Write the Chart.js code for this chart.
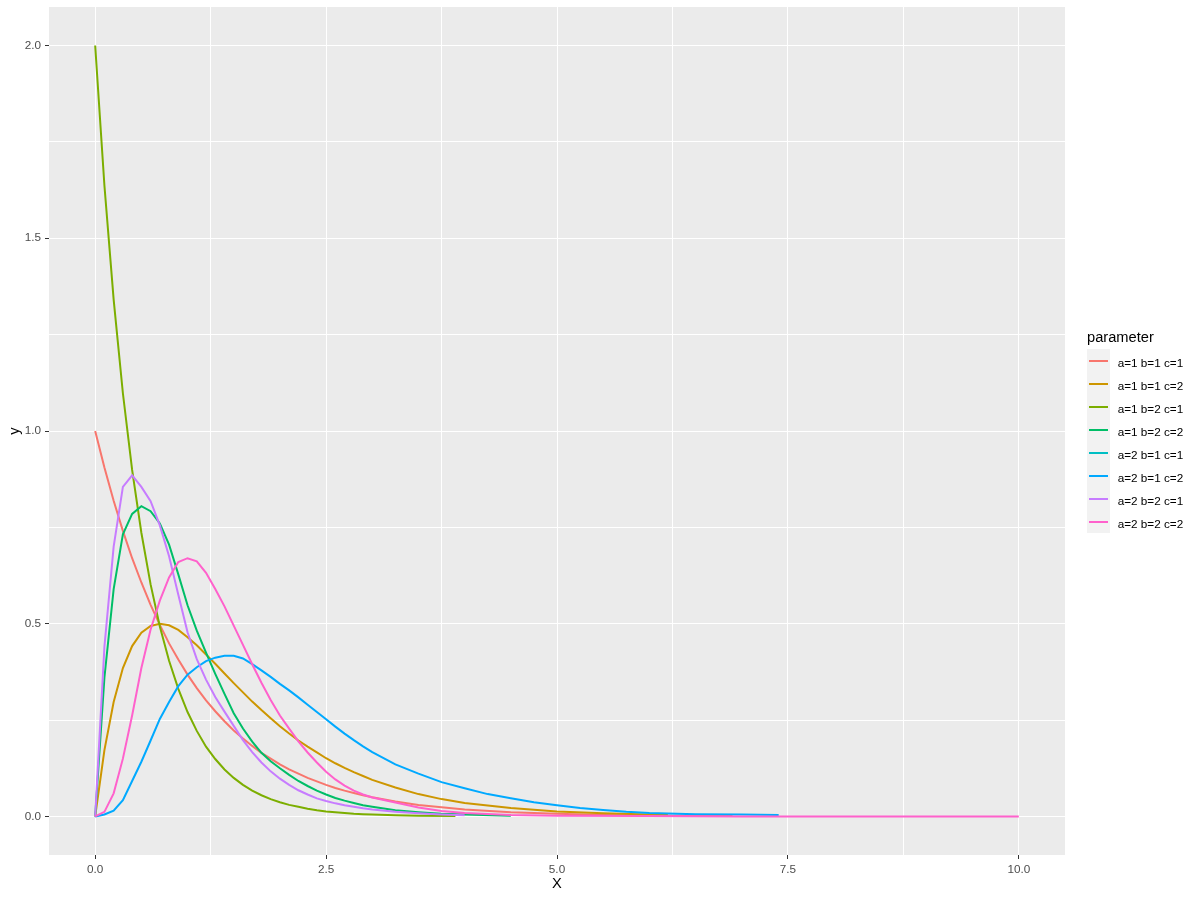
<!DOCTYPE html>
<html>
<head>
<meta charset="utf-8">
<script src="https://cdn.jsdelivr.net/npm/chart.js@4.4.0/dist/chart.umd.min.js"></script>
<style>
html,body{margin:0;padding:0;background:#fff;}
#wrap{position:relative;width:1200px;height:900px;font-family:"Liberation Sans",Arial,sans-serif;}
#chart{position:absolute;left:0;top:0;}
#legend{position:absolute;left:1087px;top:329px;}
.ltitle{position:absolute;left:0;top:0;font-size:14.67px;line-height:17px;color:#000;white-space:nowrap;}
.key{position:absolute;left:0;width:23px;height:23px;background:#F2F2F2;}
.key i{position:absolute;left:2.3px;width:18.4px;top:10.5px;height:2px;display:block;}
.lab{position:absolute;left:30.7px;font-size:11.73px;line-height:23px;color:#000;white-space:nowrap;}
</style>
</head>
<body>
<div id="wrap">
  <canvas id="chart" width="1200" height="900"></canvas>
  <div id="legend"></div>
</div>
<script>
// ---- data ----
const legendTitle = "parameter";
const seriesNames = ["a=1 b=1 c=1","a=1 b=1 c=2","a=1 b=2 c=1","a=1 b=2 c=2","a=2 b=1 c=1","a=2 b=1 c=2","a=2 b=2 c=1","a=2 b=2 c=2"];
const seriesColors = ["#F8766D","#CD9600","#7CAE00","#00BE67","#00BFC4","#00A9FF","#C77CFF","#FF61CC"];

const x111 = [0,0.1,0.2,0.3,0.4,0.5,0.6,0.7,0.8,0.9,1.0,1.1,1.2,1.3,1.4,1.5,1.6,1.7,1.8,1.9,2.0,2.1,2.2,2.3,2.4,2.5,2.6,2.7,2.8,2.9,3.0,3.25,3.5,3.75,4.0,4.5,5.0,5.5,6.0,6.5,6.9];
const y111 = [1.000,0.905,0.819,0.741,0.670,0.607,0.549,0.497,0.449,0.407,0.368,0.333,0.301,0.273,0.247,0.223,0.202,0.183,0.165,0.150,0.135,0.122,0.111,0.100,0.091,0.082,0.074,0.067,0.061,0.055,0.050,0.039,0.030,0.024,0.018,0.011,0.007,0.004,0.0025,0.0015,0.001];

const x112 = [0,0.1,0.2,0.3,0.4,0.5,0.6,0.7,0.8,0.9,1.0,1.1,1.2,1.3,1.4,1.5,1.6,1.7,1.8,1.9,2.0,2.1,2.2,2.3,2.4,2.5,2.6,2.7,2.8,2.9,3.0,3.25,3.5,3.75,4.0,4.5,5.0,5.5,6.0,6.2];
const y112 = [0,0.172,0.297,0.385,0.442,0.477,0.494,0.500,0.496,0.484,0.465,0.444,0.420,0.396,0.371,0.346,0.322,0.298,0.276,0.255,0.234,0.215,0.197,0.181,0.166,0.151,0.138,0.126,0.115,0.105,0.095,0.075,0.058,0.045,0.035,0.022,0.013,0.008,0.005,0.004];

const x121 = [0,0.1,0.2,0.3,0.4,0.5,0.6,0.7,0.8,0.9,1.0,1.1,1.2,1.3,1.4,1.5,1.6,1.7,1.8,1.9,2.0,2.1,2.2,2.3,2.4,2.5,2.6,2.7,2.8,2.9,3.0,3.25,3.5,3.9];
const y121 = [2.000,1.637,1.341,1.098,0.899,0.736,0.602,0.493,0.404,0.331,0.271,0.222,0.181,0.149,0.122,0.100,0.082,0.067,0.055,0.045,0.037,0.030,0.025,0.020,0.016,0.013,0.011,0.009,0.007,0.006,0.005,0.003,0.002,0.001];

const x122 = [0,0.1,0.2,0.3,0.4,0.5,0.6,0.7,0.8,0.9,1.0,1.1,1.2,1.3,1.4,1.5,1.6,1.7,1.8,1.9,2.0,2.1,2.2,2.3,2.4,2.5,2.6,2.7,2.8,2.9,3.0,3.25,3.5,3.75,4.0,4.5];
const y122 = [0,0.36,0.59,0.732,0.785,0.805,0.792,0.760,0.705,0.628,0.548,0.482,0.425,0.370,0.318,0.268,0.228,0.194,0.165,0.143,0.125,0.108,0.092,0.079,0.067,0.057,0.048,0.041,0.035,0.029,0.025,0.016,0.011,0.007,0.005,0.002];

const x211 = [];
const y211 = [];

const x212 = [0,0.1,0.2,0.3,0.4,0.5,0.6,0.7,0.8,0.9,1.0,1.1,1.2,1.3,1.4,1.5,1.6,1.7,1.8,1.9,2.0,2.1,2.2,2.3,2.4,2.5,2.6,2.7,2.8,2.9,3.0,3.25,3.5,3.75,4.0,4.25,4.5,4.75,5.0,5.25,5.5,5.75,6.0,6.5,7.0,7.4];
const y212 = [0,0.005,0.015,0.042,0.092,0.142,0.197,0.253,0.297,0.338,0.368,0.387,0.403,0.412,0.417,0.417,0.410,0.395,0.379,0.362,0.344,0.327,0.309,0.290,0.271,0.252,0.233,0.215,0.198,0.182,0.167,0.135,0.111,0.089,0.073,0.058,0.047,0.037,0.029,0.022,0.017,0.012,0.009,0.006,0.005,0.004];

const x221 = [0,0.1,0.2,0.3,0.4,0.5,0.6,0.7,0.8,0.9,1.0,1.1,1.2,1.3,1.4,1.5,1.6,1.7,1.8,1.9,2.0,2.1,2.2,2.3,2.4,2.5,2.6,2.7,2.8,2.9,3.0,3.25,3.5,3.75,4.0];
const y221 = [0,0.44,0.70,0.855,0.885,0.855,0.818,0.755,0.675,0.575,0.478,0.408,0.355,0.310,0.272,0.235,0.198,0.167,0.140,0.117,0.098,0.082,0.068,0.057,0.047,0.040,0.034,0.029,0.025,0.021,0.018,0.012,0.008,0.005,0.003];

const x222 = [0,0.1,0.2,0.3,0.4,0.5,0.6,0.7,0.8,0.9,1.0,1.1,1.2,1.3,1.4,1.5,1.6,1.7,1.8,1.9,2.0,2.1,2.2,2.3,2.4,2.5,2.6,2.7,2.8,2.9,3.0,3.25,3.5,3.75,4.0,4.5,5.0,6.0,7.0,8.0,9.0,10.0];
const y222 = [0,0.012,0.060,0.150,0.262,0.385,0.485,0.560,0.620,0.660,0.670,0.662,0.632,0.590,0.545,0.495,0.445,0.395,0.347,0.302,0.262,0.228,0.195,0.166,0.140,0.116,0.096,0.080,0.067,0.057,0.049,0.036,0.023,0.014,0.009,0.004,0.002,0.001,0,0,0,0];

const seriesX = [x111,x112,x121,x122,x211,x212,x221,x222];
const seriesY = [y111,y112,y121,y122,y211,y212,y221,y222];

const xTicks = [0,1.25,2.5,3.75,5,6.25,7.5,8.75,10];
const xMajor = [0,2.5,5,7.5,10];
const yTicks = [0,0.25,0.5,0.75,1,1.25,1.5,1.75,2];
const yMajor = [0,0.5,1,1.5,2];
const xTitle = "X";
const yTitle = "y";

// ---- chart ----
const FONT = '"Liberation Sans", Arial, sans-serif';
const N = seriesNames.length;
const datasets = seriesNames.map((name, i) => ({
  label: name,
  data: seriesX[i].map((xv, j) => ({x: xv, y: seriesY[i][j]})),
  borderColor: seriesColors[i],
  backgroundColor: seriesColors[i],
  borderWidth: 2,
  pointRadius: 0,
  pointHoverRadius: 0,
  fill: false,
  tension: 0,
  order: N - i
}));

const bgPlugin = {
  id: 'panelBg',
  beforeDraw(chart) {
    const {ctx, chartArea: a} = chart;
    ctx.save();
    ctx.fillStyle = '#FFFFFF';
    ctx.fillRect(0, 0, chart.width, chart.height);
    ctx.fillStyle = '#EBEBEB';
    ctx.fillRect(a.left, a.top, a.right - a.left, a.bottom - a.top);
    ctx.restore();
  }
};

new Chart(document.getElementById('chart'), {
  type: 'line',
  data: { datasets },
  options: {
    responsive: false,
    animation: false,
    devicePixelRatio: 1,
    events: [],
    layout: { padding: { top: 7, right: 135, left: 0, bottom: 0 } },
    plugins: { legend: { display: false }, tooltip: { enabled: false } },
    scales: {
      x: {
        type: 'linear',
        min: -0.5, max: 10.5,
        afterBuildTicks: (axis) => { axis.ticks = xTicks.map(v => ({value: v})); },
        afterFit: (axis) => { axis.height = 45; axis.paddingLeft = 0; axis.paddingRight = 0; },
        border: { display: false },
        grid: {
          color: '#FFFFFF', lineWidth: 1, drawTicks: true, tickLength: 4, tickWidth: 1,
          tickColor: (c) => (c.tick && xMajor.includes(c.tick.value)) ? '#333333' : 'rgba(0,0,0,0)'
        },
        ticks: {
          autoSkip: false, maxRotation: 0, padding: 4, color: '#4D4D4D',
          font: { family: FONT, size: 11.73 },
          callback: (v) => xMajor.includes(v) ? Number(v).toFixed(1) : ''
        },
        title: { display: true, text: xTitle, color: '#000000', font: { family: FONT, size: 14.67 }, padding: { top: 0, bottom: 7 } }
      },
      y: {
        type: 'linear',
        min: -0.1, max: 2.1,
        afterBuildTicks: (axis) => { axis.ticks = yTicks.map(v => ({value: v})); },
        afterFit: (axis) => { axis.width = 49; axis.paddingTop = 0; axis.paddingBottom = 0; },
        border: { display: false },
        grid: {
          color: '#FFFFFF', lineWidth: 1, drawTicks: true, tickLength: 4, tickWidth: 1,
          tickColor: (c) => (c.tick && yMajor.includes(c.tick.value)) ? '#333333' : 'rgba(0,0,0,0)'
        },
        ticks: {
          autoSkip: false, padding: 4, color: '#4D4D4D',
          font: { family: FONT, size: 11.73 },
          callback: (v) => yMajor.includes(v) ? Number(v).toFixed(1) : ''
        },
        title: { display: true, text: yTitle, color: '#000000', font: { family: FONT, size: 14.67 }, padding: { top: 6, bottom: 0 } }
      }
    }
  },
  plugins: [bgPlugin]
});

// ---- legend (HTML) ----
const leg = document.getElementById('legend');
const t = document.createElement('div');
t.className = 'ltitle';
t.textContent = legendTitle;
leg.appendChild(t);
seriesNames.forEach((name, i) => {
  const top = 20.3 + 23 * i;
  const k = document.createElement('div');
  k.className = 'key';
  k.style.top = top + 'px';
  const ln = document.createElement('i');
  ln.style.background = seriesColors[i];
  k.appendChild(ln);
  leg.appendChild(k);
  const l = document.createElement('div');
  l.className = 'lab';
  l.style.top = (top + 2) + 'px';
  l.textContent = name;
  leg.appendChild(l);
});
</script>
</body>
</html>
